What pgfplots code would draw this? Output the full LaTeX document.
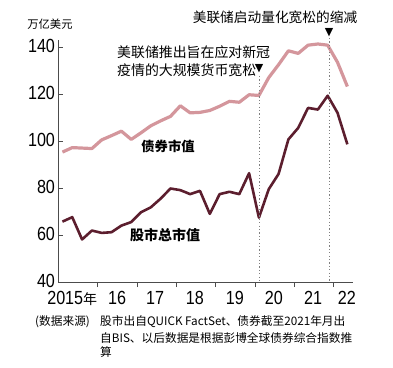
\documentclass[border=0pt]{standalone}
\usepackage{fontspec}
\usepackage{pgfplots}
\usepackage{pgfplotstable}
\pgfplotsset{compat=1.18}
\setmainfont{Liberation Sans}
\newfontfamily\cjk{Noto Sans CJK SC}
\newfontfamily\tickfont[FakeStretch=0.85]{Liberation Sans}
\newfontfamily\symfont{DejaVu Sans}
\definecolor{bondc}{RGB}{212,150,156}
\definecolor{stockc}{RGB}{92,30,46}
\pgfplotstableread{
x bond stock
2015.10 95.3 65.7
2015.35 97.2 67.6
2015.60 97.0 58.1
2015.85 96.8 61.9
2016.10 100.5 60.9
2016.35 102.3 61.2
2016.60 104.2 64.0
2016.85 100.7 65.5
2017.10 103.5 69.7
2017.35 106.5 71.8
2017.60 108.6 75.5
2017.85 110.5 79.8
2018.10 115.0 79.1
2018.35 112.0 77.4
2018.60 112.2 78.8
2018.85 113.0 69.0
2019.10 114.8 77.4
2019.35 116.9 78.4
2019.60 116.5 77.4
2019.85 119.7 86.3
2020.10 119.4 67.4
2020.35 127.0 79.5
2020.60 132.5 86.0
2020.85 138.4 100.7
2021.10 137.3 105.6
2021.35 140.8 114.1
2021.60 141.3 113.4
2021.85 140.8 119.3
2022.10 133.5 112.0
2022.35 123.2 98.6
}\datatable
\begin{document}
\begin{tikzpicture}
\path[use as bounding box] (-58.5pt,-85pt) rectangle (334.5pt,282pt);
\begin{axis}[
  scale only axis, width=294.75pt, height=242pt,
  xmin=2015, xmax=2022.5, ymin=40, ymax=143,
  axis x line=bottom, axis y line=left,
  axis line style={-, black!70, line width=0.8pt},
  ytick={40,60,...,140},
  xtick={2016,...,2022},
  xticklabels={},
  extra x ticks={2015.35,2016.49,2017.46,2018.47,2019.49,2020.48,2021.48,2022.34},
  extra x tick labels={2015{\cjk\fontsize{14}{14}\selectfont 年},16,17,18,19,20,21,22},
  extra x tick style={major tick length=0pt},
  x tick label style={yshift=-5.5pt},
  y tick label style={yshift=1pt},
  xtick align=outside, ytick align=inside,
  major tick length=5pt,
  tick style={black!70, line width=0.8pt},
  /pgf/number format/assume math mode=true,
  ticklabel style={font=\tickfont\fontsize{19}{20}\selectfont},
  clip=false,
]
\addplot[bondc, line width=3.2pt, line join=round] table[x=x, y=bond] {\datatable};
\addplot[stockc, line width=2.6pt, line join=round] table[x=x, y=stock] {\datatable};
\end{axis}
% dotted event lines
\draw[black!50, dash pattern=on 1.2pt off 2.2pt, line width=0.9pt] (200.5pt,206pt) -- (200.5pt,0pt);
\draw[black!50, dash pattern=on 1.2pt off 2.2pt, line width=0.9pt] (270.5pt,244pt) -- (270.5pt,0pt);
% annotations
\node[font=\cjk\fontsize{11.3}{12}\selectfont] at (-8.5pt,258pt) {万亿美元};
\node[font=\cjk\fontsize{13.7}{14}\selectfont] at (216.5pt,265pt) {美联储启动量化宽松的缩减};
\node[font=\symfont\fontsize{11}{11}\selectfont] at (270.5pt,249pt) {▼};
\node[anchor=west, inner sep=0pt, font=\cjk\fontsize{13.9}{14}\selectfont] at (58.5pt,230pt) {美联储推出旨在应对新冠};
\node[anchor=west, inner sep=0pt, font=\cjk\fontsize{13.9}{14}\selectfont] at (58.5pt,212pt) {疫情的大规模货币宽松};
\node[font=\symfont\fontsize{11}{11}\selectfont] at (200.5pt,213pt) {▼};
\node[font=\cjk\bfseries\fontsize{13.3}{14}\selectfont] at (109.5pt,136pt) {债券市值};
\node[font=\cjk\bfseries\fontsize{14}{14}\selectfont] at (106.5pt,47pt) {股市总市值};
% source note
\node[anchor=west, inner sep=0pt, font=\cjk\fontsize{11.7}{12}\selectfont] at (-23.5pt,-39.7pt) {(数据来源)};
\node[anchor=west, inner sep=0pt, font=\cjk\fontsize{11.7}{12}\selectfont] at (41.5pt,-39.7pt) {股市出自QUICK FactSet、债券截至2021年月出};
\node[anchor=west, inner sep=0pt, font=\cjk\fontsize{11.7}{12}\selectfont] at (41.5pt,-56.3pt) {自BIS、以后数据是根据彭博全球债券综合指数推};
\node[anchor=west, inner sep=0pt, font=\cjk\fontsize{11.7}{12}\selectfont] at (41.5pt,-69.7pt) {算};
\end{tikzpicture}
\end{document}
